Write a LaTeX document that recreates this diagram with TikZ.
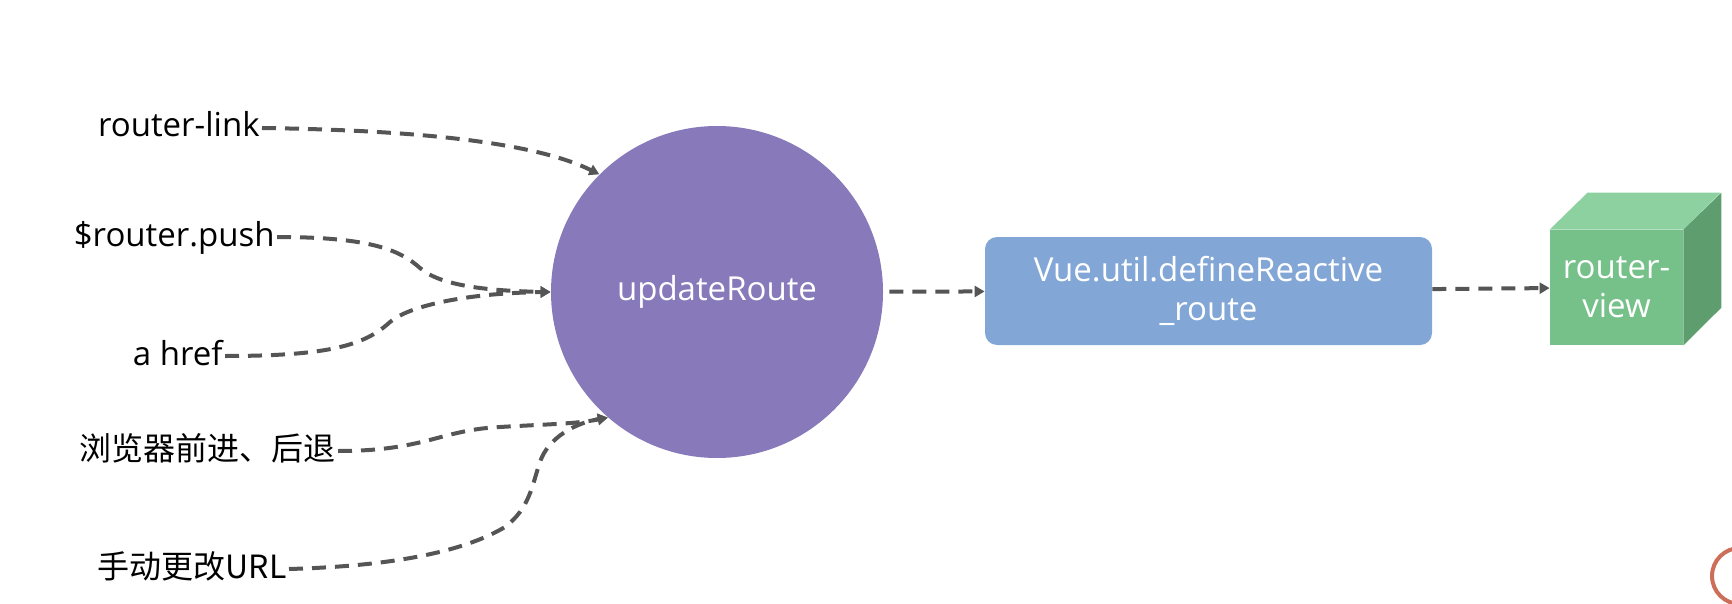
\documentclass[tikz,border=0pt]{standalone}
\usepackage{fontspec}
\setmainfont{Open Sans}
\newfontfamily\cjk{Noto Sans CJK SC}
\usetikzlibrary{arrows.meta}
\definecolor{routepurple}{HTML}{887ABA}
\definecolor{reactblue}{HTML}{82A7D6}
\definecolor{viewgreen}{HTML}{76C18A}
\definecolor{viewtop}{HTML}{8ED1A1}
\definecolor{viewside}{HTML}{5E9E6E}
\definecolor{flowgray}{HTML}{555555}
\definecolor{cursorred}{HTML}{CD6E5A}

\begin{document}
\begin{tikzpicture}[x=0.5pt,y=-0.5pt,
    flow/.style={draw=flowgray,line width=2pt,dash pattern=on 7pt off 4.5pt,
      -{Triangle[length=5pt,width=5.5pt]}}]

      \useasboundingbox (0,0) rectangle (1732,604);

      \begin{scope}[every node/.style={anchor=east,inner xsep=1pt,inner ysep=0pt,
          text height=12pt,text depth=3pt,font=\fontsize{16.5}{19.5}\selectfont}]
        \node (link) at (262,128) {router-link};
        \node (push) at (277,237) {\$router.push};
        \node (href) at (225,356) {a href};
        \node[font=\cjk\fontsize{16}{19}\selectfont] (back) at (338,451) {浏览器前进、后退};
        \node[font=\cjk\fontsize{16}{19}\selectfont] (url)  at (289,569) {手动更改URL};
      \end{scope}

      \begin{scope}[every node/.style={text=white,align=center,inner sep=0pt,
          font=\fontsize{16.5}{19.5}\selectfont}]
        \node[circle,fill=routepurple,minimum size=166pt] (up) at (717,292) {updateRoute};
        \node[rounded corners=6pt,fill=reactblue,minimum width=223.5pt,
          minimum height=54pt] (rt) at (1208.5,291) {Vue.util.defineReactive\\\_route};
        \node[fill=viewgreen,minimum width=66.5pt,minimum height=57.5pt]
          (view) at (1616.5,287.5) {router-\\view};
      \end{scope}

      \fill[viewtop] (view.north west) -- ++(38,-37) -- ++(133,0) -- (view.north east) -- cycle;
      \fill[viewside] (view.north east) -- ++(38,-37) -- ++(0,115) -- (view.south east) -- cycle;

      \draw[flow] (link.east) .. controls (400,130) and (530,140) .. (up.135);
      \draw[flow] (push.east) .. controls (370,237) and (400,250) .. (420,268)
        .. controls (440,286) and (490,291) .. (up.west);
      \draw[flow] (href.east) .. controls (330,356) and (365,345) .. (390,322)
        .. controls (410,305) and (470,293) .. (up.west);
      \draw[flow] (back.east) .. controls (425,451) and (440,430) .. (500,427)
        .. controls (550,424) and (575,424) .. (up.229);
      \draw[flow] (url.east) .. controls (395,566) and (465,551) .. (505,527)
        .. controls (530,508) and (532,485) .. (540,462)
        .. controls (548,438) and (575,423) .. (up.229);
      \draw[flow,shorten <=3pt] (up) -- (rt);
      \draw[flow] (rt) -- (view);

      \draw[cursorred,line width=2pt] (1740,576) circle[radius=14pt];

    \end{tikzpicture}
\end{document}
